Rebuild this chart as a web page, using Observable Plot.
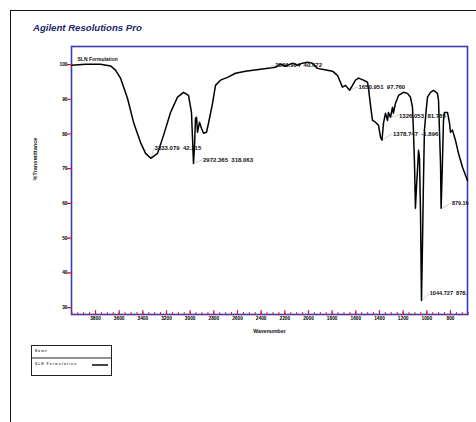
<!DOCTYPE html>
<html>
<head>
<meta charset="utf-8">
<script src="https://cdn.jsdelivr.net/npm/d3@7"></script>
<script src="https://cdn.jsdelivr.net/npm/@observablehq/plot@0.6"></script>
<style>
  html, body { margin: 0; padding: 0; background: #fff; width: 476px; height: 422px; overflow: hidden; }
  #page { position: absolute; left: 10px; top: 10px; width: 500px; height: 450px; border-left: 1px solid #111; border-top: 1px solid #111; }
  #title { position: absolute; left: 33px; top: 23px; font: italic bold 9.6px "Liberation Sans", Arial, sans-serif; color: #1c2a6b; line-height: 10px; white-space: nowrap; }
  #chart { position: absolute; left: 0; top: 0; }
  #legend { position: absolute; left: 31px; top: 345px; }
</style>
</head>
<body>
<div id="page"></div>
<div id="title">Agilent Resolutions Pro</div>
<div id="chart"></div>
<div id="legend"></div>
<script>
const wavenumber = [4003,3885,3758,3673,3631,3589,3530,3479,3420,3377,3333,3276,3225,3166,3107,3056,3014,2989,2980,2972,2963,2955,2946,2938,2921,2904,2887,2862,2845,2811,2786,2744,2684,2617,2532,2422,2338,2279,2237,2194,2135,2093,2051,2008,1966,1924,1873,1797,1755,1730,1713,1687,1653,1628,1603,1577,1535,1501,1493,1476,1459,1434,1408,1391,1379,1366,1349,1332,1324,1307,1290,1282,1265,1239,1197,1163,1138,1121,1113,1104,1096,1087,1079,1070,1062,1053,1045,1037,1028,1020,1003,994,969,944,910,901,893,884,879,868,859,851,825,808,800,783,758,732,698,673,656];
const transmittance = [99.8,100.1,100.1,99.6,98.4,96.1,90.3,83.4,77.6,74.4,73.0,74.4,79.6,86.2,90.6,92.0,91.1,86.2,78.7,71.5,76.7,84.5,84.8,80.5,83.4,81.6,80.2,80.5,83.1,88.8,94.0,95.5,96.3,97.5,98.1,98.6,98.9,99.2,100.1,99.5,100.4,99.8,100.4,100.7,100.4,98.9,98.6,98.1,96.9,94.9,93.5,94.0,92.6,94.0,95.5,96.1,95.5,94.9,93.2,88.3,83.9,83.4,82.5,79.0,78.2,83.1,86.0,83.9,86.2,84.8,87.7,86.0,88.8,91.1,92.0,91.7,90.6,87.7,81.1,71.5,58.6,65.0,69.5,75.3,73.3,57.1,32.0,47.3,66.6,81.1,87.7,90.6,92.0,92.6,91.7,89.7,81.1,71.5,58.6,71.5,83.9,86.2,86.2,83.1,80.5,81.1,78.2,74.4,70.4,68.1,66.6];

const peakLabels = ["3333.079  42.215","2972.365  318.063","2366.904  40.672","1650.951  97.760","1326.053  81.785","1378.747  -1.896","879.16","1044.727  878."];
const peakX = [3333, 2972, 2366, 1653, 1318, 1379, 879, 1045];
const peakY = [73.0, 71.5, 98.8, 92.6, 85.0, 78.2, 58.6, 32.0];
const labelX = [3305, 2896, 2285, 1582, 1239, 1290, 792, 980];
const labelY = [75.8, 72.6, 99.8, 93.6, 85.3, 80.1, 60.0, 34.0];
const labelSize = [6, 6, 6, 6, 6, 6, 5.4, 5.6];

const xTicks = [3800,3600,3400,3200,3000,2800,2600,2400,2200,2000,1800,1600,1400,1200,1000,800];
const yTicks = [30,40,50,60,70,80,90,100];
const xMinorTicks = d3.range(4000, 649, -50);

const spectrum = wavenumber.map((w, i) => ({w, t: transmittance[i]}));
const peaks = peakLabels.map((label, i) => ({label, px: peakX[i], py: peakY[i], lx: labelX[i], ly: labelY[i], fs: labelSize[i]}));

const tickShape = {draw(context, l) { context.moveTo(0, 0); context.lineTo(0, -l); }};
const font = "'Liberation Sans', Arial, sans-serif";

const chart = Plot.plot({
  width: 476,
  height: 345,
  marginLeft: 71,
  marginRight: 9,
  marginTop: 46,
  marginBottom: 31,
  style: {fontFamily: font, background: "transparent"},
  x: {domain: [4003, 656]},
  y: {domain: [28.0, 105.2]},
  marks: [
    Plot.frame({stroke: "#3b3bb2", strokeWidth: 1.6}),
    Plot.link(peaks, {x1: "px", y1: "py", x2: "lx", y2: "ly", stroke: "#aaaaaa", strokeWidth: 0.6}),
    Plot.line(spectrum, {x: "w", y: "t", stroke: "#000", strokeWidth: 1.5, curve: "linear"}),
    ...peaks.map(p => Plot.text([p], {x: "lx", y: "ly", text: "label", textAnchor: "start", dx: 0.5, fontSize: p.fs, fontWeight: "bold", fill: "#111"})),
    Plot.vector(xMinorTicks, {x: d => d, frameAnchor: "bottom", length: 2, rotate: 0, anchor: "start", shape: tickShape, stroke: "#e01515", strokeWidth: 1}),
    Plot.vector(xTicks, {x: d => d, frameAnchor: "bottom", length: 4, rotate: 0, anchor: "start", shape: tickShape, stroke: "#e01515", strokeWidth: 1.2}),
    Plot.vector(yTicks, {y: d => d, frameAnchor: "left", length: 4, rotate: -90, anchor: "start", shape: tickShape, stroke: "#e01515", strokeWidth: 1.2}),
    Plot.axisX({ticks: xTicks, tickSize: 0, tickPadding: 2.5, fontSize: 4.8, fontWeight: "bold", label: null, tickFormat: d => String(d)}),
    Plot.axisY({ticks: yTicks, tickSize: 0, tickPadding: 4, fontSize: 4.8, fontWeight: "bold", label: null}),
    Plot.text(["Wavenumber"], {frameAnchor: "bottom", dy: 18, text: d => d, fontSize: 5.2, fontWeight: "bold", fill: "#111"}),
    Plot.text(["%Transmittance"], {frameAnchor: "left", dx: -36, rotate: -90, text: d => d, fontSize: 5.6, fontWeight: "bold", fill: "#111"}),
    Plot.text(["SLN Formulation"], {frameAnchor: "top-left", dx: 6, dy: 11, text: d => d, textAnchor: "start", fontSize: 5, fontWeight: "bold", fill: "#111"})
  ]
});
document.getElementById("chart").appendChild(chart);

// legend
const legendRows = ["Name", "SLN Formulation"];
const lg = d3.select("#legend").append("svg").attr("width", 82).attr("height", 32);
lg.append("rect").attr("x", 0.5).attr("y", 0.5).attr("width", 80).attr("height", 30).attr("fill", "#fff").attr("stroke", "#222").attr("stroke-width", 1);
lg.append("line").attr("x1", 0.5).attr("x2", 80.5).attr("y1", 13).attr("y2", 13).attr("stroke", "#222").attr("stroke-width", 1);
lg.selectAll("text.row").data(legendRows).join("text")
  .attr("x", 4).attr("y", (d, i) => 7 + i * 13)
  .attr("font-size", 3).attr("font-family", font).attr("font-weight", "bold").attr("fill", "#333")
  .attr("letter-spacing", 1.2)
  .text(d => d);
lg.append("line").attr("x1", 61).attr("x2", 77).attr("y1", 20).attr("y2", 20).attr("stroke", "#444").attr("stroke-width", 2);
</script>
</body>
</html>
